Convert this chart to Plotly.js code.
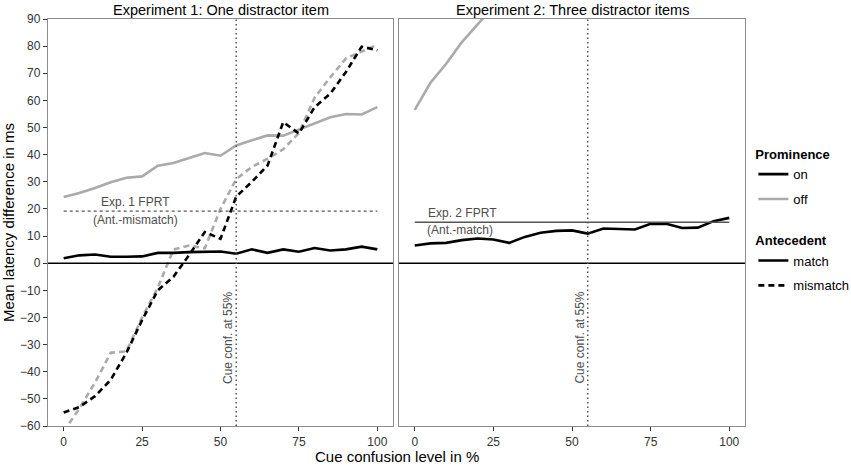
<!DOCTYPE html>
<html>
<head>
<meta charset="utf-8">
<script src="https://cdn.plot.ly/plotly-3.0.1.min.js"></script>
<style>
  html, body { margin: 0; padding: 0; background: #fff; }
  #chart { width: 851px; height: 471px; }
</style>
</head>
<body>
<div id="chart"></div>
<script>
// cue confusion levels (%)
const confusion = [0, 5, 10, 15, 20, 25, 30, 35, 40, 45, 50, 55, 60, 65, 70, 75, 80, 85, 90, 95, 100]

// Experiment 1: one distractor item
const exp1OnMatch = [1.8, 2.9, 3.2, 2.4, 2.4, 2.5, 3.8, 3.8, 4.1, 4.2, 4.3, 3.5, 5.1, 3.8, 5.1, 4.2, 5.6, 4.7, 5.1, 6.1, 5.1]
const exp1OffMatch = [24.4, 25.9, 27.7, 29.8, 31.5, 32, 35.9, 36.9, 38.8, 40.6, 39.6, 43.4, 45.3, 47.1, 47, 49.2, 51.6, 53.8, 55, 54.8, 57.5]
const exp1OnMismatch = [-55, -53, -49, -43, -33, -21, -10, -5, 3, 11.5, 9, 24.5, 30, 36, 52, 47.8, 57.5, 62.5, 70.5, 79.8, 78.5]
const exp1OffMismatch = [-62, -53.5, -44, -33, -32.5, -20, -9, 5, 6.5, 5.5, 20, 31, 35.5, 38.5, 42, 48, 61, 68.5, 75.5, 78, 80.5]

// Experiment 2: three distractor items
const exp2OnMatch = [6.5, 7.3, 7.5, 8.5, 9.1, 8.75, 7.5, 9.7, 11.2, 11.9, 12.1, 10.9, 12.8, 12.7, 12.4, 14.5, 14.5, 13, 13.1, 15.5, 16.7]
const exp2OffMatch = [56.5, 66.5, 73.5, 81.5, 88, 94.5]

// reference values
const cueConf = 55
const exp1Fprt = 19.2
const exp2Fprt = 15.1
const yTicks = [-60, -50, -40, -30, -20, -10, 0, 10, 20, 30, 40, 50, 60, 70, 80, 90]
const xTicks = [0, 25, 50, 75, 100]

const black = '#000000'
const grey = '#aaaaaa'
const refGrey = '#555555'
const font = 'Liberation Sans, Arial, sans-serif'

function line(x, y, color, dash, xa, ya) {
  return {
    type: 'scatter', mode: 'lines', x: x, y: y,
    xaxis: xa, yaxis: ya, showlegend: false, hoverinfo: 'skip',
    line: { color: color, width: 2.6, dash: dash }
  }
}

function key(name, legend, color, dash) {
  return {
    type: 'scatter', mode: 'lines', x: [null], y: [null], name: name,
    legend: legend, legendgroup: name, hoverinfo: 'skip',
    line: { color: color, width: 2.6, dash: dash }
  }
}

const dashed = '6px,4px'
const dotted = '1.5px,3px'

const data = [
  line(confusion, exp1OffMatch, grey, 'solid', 'x', 'y'),
  line(confusion, exp1OffMismatch, grey, dashed, 'x', 'y'),
  line(confusion, exp1OnMismatch, black, dashed, 'x', 'y'),
  line(confusion, exp1OnMatch, black, 'solid', 'x', 'y'),
  line(confusion.slice(0, exp2OffMatch.length), exp2OffMatch, grey, 'solid', 'x2', 'y2'),
  line(confusion, exp2OnMatch, black, 'solid', 'x2', 'y2'),
  key('on', 'legend', black, 'solid'),
  key('off', 'legend', grey, 'solid'),
  key('match', 'legend2', black, 'solid'),
  key('mismatch', 'legend2', black, dashed),
]

const xaxisBase = {
  range: [-5, 105],
  tickvals: xTicks,
  ticks: 'outside', ticklen: 4, tickwidth: 1, tickcolor: '#333',
  tickfont: { family: font, size: 12, color: '#333' },
  showline: true, mirror: true, linecolor: '#8c8c8c', linewidth: 1.2,
  showgrid: false, zeroline: false, fixedrange: true,
}
const yaxisBase = {
  range: [-60, 90],
  tickvals: yTicks,
  ticks: 'outside', ticklen: 4, tickwidth: 1, tickcolor: '#333',
  tickfont: { family: font, size: 12, color: '#333' },
  showline: true, mirror: true, linecolor: '#8c8c8c', linewidth: 1.2,
  showgrid: false, zeroline: false, fixedrange: true,
}

const annFont = { family: font, size: 12, color: '#4d4d4d' }

const legendBase = {
  xanchor: 'left', yanchor: 'top',
  font: { family: font, size: 13, color: '#000' },
  bgcolor: 'rgba(0,0,0,0)', itemwidth: 30, tracegroupgap: 5,
}

const layout = {
  width: 851, height: 471,
  paper_bgcolor: '#fff', plot_bgcolor: '#fff',
  font: { family: font, color: '#000' },
  margin: { l: 48, r: 106, t: 19, b: 45, autoexpand: false },
  xaxis: Object.assign({}, xaxisBase, { domain: [0, 0.495], anchor: 'y' }),
  xaxis2: Object.assign({}, xaxisBase, { domain: [0.5036, 1], anchor: 'y2' }),
  yaxis: Object.assign({}, yaxisBase, {
    domain: [0, 1], anchor: 'x',
    title: { text: 'Mean latency difference in ms', font: { family: font, size: 15, color: '#000' }, standoff: 6 }
  }),
  yaxis2: Object.assign({}, yaxisBase, { domain: [0, 1], anchor: 'x2', showticklabels: false, ticks: '' }),
  showlegend: true,
  legend: Object.assign({}, legendBase, {
    x: 1.012, y: 0.697,
    title: { text: '<b>Prominence</b>', font: { family: font, size: 13, color: '#000' } },
  }),
  legend2: Object.assign({}, legendBase, {
    x: 1.012, y: 0.485,
    title: { text: '<b>Antecedent</b>', font: { family: font, size: 13, color: '#000' } },
  }),
  shapes: [
    // zero lines
    { type: 'line', xref: 'x domain', yref: 'y', x0: 0, x1: 1, y0: 0, y1: 0, line: { color: black, width: 1.6 } },
    { type: 'line', xref: 'x2 domain', yref: 'y2', x0: 0, x1: 1, y0: 0, y1: 0, line: { color: black, width: 1.6 } },
    // cue confusion marker
    { type: 'line', xref: 'x', yref: 'y domain', x0: cueConf, x1: cueConf, y0: 0, y1: 1, line: { color: refGrey, width: 1.5, dash: dotted } },
    { type: 'line', xref: 'x2', yref: 'y2 domain', x0: cueConf, x1: cueConf, y0: 0, y1: 1, line: { color: refGrey, width: 1.5, dash: dotted } },
    // FPRT reference lines
    { type: 'line', xref: 'x', yref: 'y', x0: 0, x1: 100, y0: exp1Fprt, y1: exp1Fprt, line: { color: refGrey, width: 1.3, dash: '3px,3px' } },
    { type: 'line', xref: 'x2', yref: 'y2', x0: 0, x1: 100, y0: exp2Fprt, y1: exp2Fprt, line: { color: refGrey, width: 1.3 } },
  ],
  annotations: [
    { xref: 'x domain', yref: 'paper', x: 0.5, y: 1, yanchor: 'bottom', showarrow: false, yshift: -1,
      text: 'Experiment 1: One distractor item', font: { family: font, size: 14.5, color: '#000' } },
    { xref: 'x2 domain', yref: 'paper', x: 0.5, y: 1, yanchor: 'bottom', showarrow: false, yshift: -1,
      text: 'Experiment 2: Three distractor items', font: { family: font, size: 14.5, color: '#000' } },
    { xref: 'paper', yref: 'paper', x: 0.5, y: 0, yanchor: 'top', showarrow: false, yshift: -20,
      text: 'Cue confusion level in %', font: { family: font, size: 15, color: '#000' } },
    { xref: 'x', yref: 'y', x: cueConf, y: -27.5, textangle: -90, xshift: -8, showarrow: false,
      text: 'Cue conf. at 55%', font: annFont },
    { xref: 'x2', yref: 'y2', x: cueConf, y: -27.5, textangle: -90, xshift: -8, showarrow: false,
      text: 'Cue conf. at 55%', font: annFont },
    { xref: 'x', yref: 'y', x: 23, y: exp1Fprt, yshift: 9, showarrow: false, text: 'Exp. 1 FPRT', font: annFont },
    { xref: 'x', yref: 'y', x: 23, y: exp1Fprt, yshift: -9, showarrow: false, text: '(Ant.-mismatch)', font: annFont },
    { xref: 'x2', yref: 'y2', x: 15.3, y: exp2Fprt, yshift: 9, showarrow: false, text: 'Exp. 2 FPRT', font: annFont },
    { xref: 'x2', yref: 'y2', x: 14.3, y: exp2Fprt, yshift: -8, showarrow: false, text: '(Ant.-match)', font: annFont },
  ],
}

Plotly.newPlot('chart', data, layout, { staticPlot: true, displayModeBar: false })
</script>
</body>
</html>
